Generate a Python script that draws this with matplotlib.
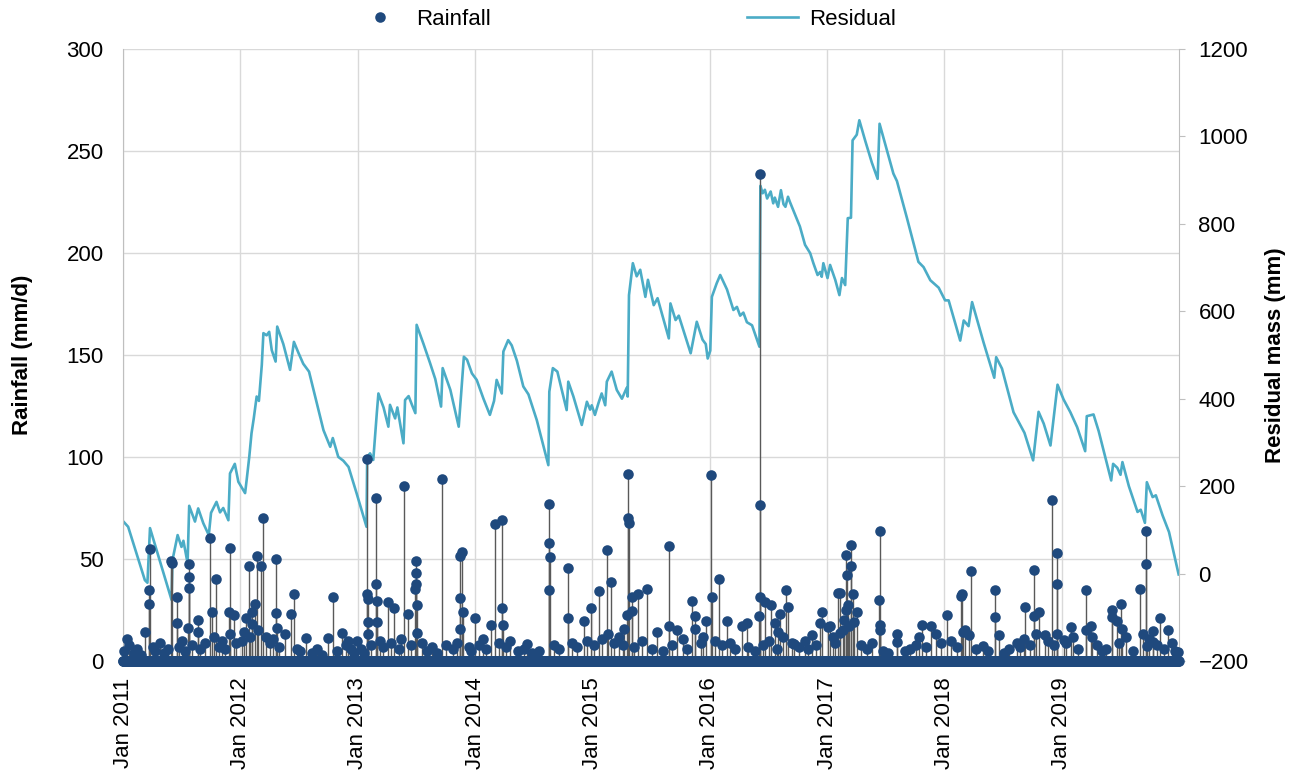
import pandas as pd
import matplotlib.pyplot as plt
from matplotlib.lines import Line2D

plt.rcParams['font.family'] = ['Liberation Sans', 'DejaVu Sans']

# daily rainfall events (all other days are 0 mm)
rain_dates = [
    # 2011
    '2011-01-14', '2011-03-10', '2011-03-23', '2011-03-24', '2011-03-25', '2011-04-04',
    '2011-05-31', '2011-06-03', '2011-06-17', '2011-06-18', '2011-07-23', '2011-07-24',
    '2011-07-25', '2011-07-26', '2011-08-22', '2011-08-23', '2011-09-29', '2011-10-06',
    '2011-10-18', '2011-11-27', '2011-11-29', '2011-12-12',
    '2011-01-05', '2011-01-20', '2011-02-03', '2011-02-14', '2011-02-26', '2011-04-12',
    '2011-04-25', '2011-05-08', '2011-05-20', '2011-06-25', '2011-07-05', '2011-07-14',
    '2011-08-05', '2011-08-30', '2011-09-12', '2011-10-10', '2011-10-26', '2011-11-05',
    '2011-11-15', '2011-12-01', '2011-12-20',
    # 2012
    '2012-01-19', '2012-01-28', '2012-02-05', '2012-02-15', '2012-02-21', '2012-03-04',
    '2012-03-13', '2012-04-21', '2012-04-22', '2012-04-23', '2012-06-08', '2012-06-15',
    '2012-07-25', '2012-09-30', '2012-10-16', '2012-11-13', '2012-12-02', '2012-12-30',
    '2012-01-05', '2012-01-12', '2012-02-01', '2012-02-08', '2012-02-26', '2012-03-20',
    '2012-04-02', '2012-04-12', '2012-05-02', '2012-05-20', '2012-06-25', '2012-07-05',
    '2012-08-10', '2012-08-28', '2012-09-10', '2012-10-28', '2012-11-25', '2012-12-12',
    '2012-12-20',
    # 2013
    '2013-01-30', '2013-01-31', '2013-02-01', '2013-02-02', '2013-02-03', '2013-02-26',
    '2013-02-27', '2013-03-01', '2013-03-02', '2013-04-06', '2013-04-24', '2013-05-26',
    '2013-06-05', '2013-06-29', '2013-06-30', '2013-07-01', '2013-07-02', '2013-07-03',
    '2013-07-04', '2013-09-19', '2013-11-14', '2013-11-15', '2013-11-16', '2013-11-22',
    '2013-11-24', '2013-12-31',
    '2013-01-10', '2013-01-20', '2013-02-12', '2013-03-12', '2013-03-20', '2013-04-15',
    '2013-05-10', '2013-05-16', '2013-06-14', '2013-07-20', '2013-08-05', '2013-08-20',
    '2013-09-05', '2013-10-02', '2013-10-25', '2013-11-05', '2013-12-12', '2013-12-20',
    # 2014
    '2014-02-19', '2014-03-04', '2014-03-26', '2014-03-27', '2014-03-28', '2014-06-13',
    '2014-08-18', '2014-08-19', '2014-08-20', '2014-08-22', '2014-10-16', '2014-10-17',
    '2014-12-07', '2014-12-28',
    '2014-01-12', '2014-01-25', '2014-02-05', '2014-03-15', '2014-04-08', '2014-04-20',
    '2014-05-15', '2014-06-02', '2014-06-28', '2014-07-20', '2014-09-05', '2014-09-20',
    '2014-10-30', '2014-11-15', '2014-12-15',
    # 2015
    '2015-01-23', '2015-02-15', '2015-02-28', '2015-04-08', '2015-04-20', '2015-04-22',
    '2015-04-23', '2015-04-24', '2015-05-03', '2015-05-04', '2015-05-23', '2015-06-20',
    '2015-07-21', '2015-08-26', '2015-08-27', '2015-09-21', '2015-11-07', '2015-11-16',
    '2015-11-17', '2015-12-22',
    '2015-01-05', '2015-01-30', '2015-02-20', '2015-03-10', '2015-03-25', '2015-04-05',
    '2015-05-12', '2015-06-05', '2015-07-05', '2015-08-10', '2015-09-05', '2015-10-10',
    '2015-10-22', '2015-12-05', '2015-12-12',
    # 2016
    '2016-01-06', '2016-01-07', '2016-01-31', '2016-02-24', '2016-04-10', '2016-04-26',
    '2016-06-04', '2016-06-05', '2016-06-06', '2016-06-07', '2016-06-22', '2016-07-10',
    '2016-07-22', '2016-08-01', '2016-08-07', '2016-08-26', '2016-09-02', '2016-09-21',
    '2016-10-24', '2016-11-14', '2016-12-10', '2016-12-17',
    '2016-01-18', '2016-02-10', '2016-03-05', '2016-03-20', '2016-05-01', '2016-05-20',
    '2016-06-15', '2016-07-03', '2016-07-28', '2016-08-15', '2016-09-12', '2016-10-05',
    '2016-11-01', '2016-11-28',
    # 2017
    '2017-01-05', '2017-01-10', '2017-02-03', '2017-02-10', '2017-02-11', '2017-02-28',
    '2017-03-02', '2017-03-03', '2017-03-06', '2017-03-16', '2017-03-17', '2017-03-21',
    '2017-04-05', '2017-05-20', '2017-06-12', '2017-06-13', '2017-06-14', '2017-06-15',
    '2017-08-06', '2017-08-07', '2017-10-23', '2017-11-20', '2017-12-07',
    '2017-01-18', '2017-01-25', '2017-02-18', '2017-02-22', '2017-03-10', '2017-03-25',
    '2017-04-15', '2017-05-05', '2017-06-25', '2017-07-10', '2017-09-01', '2017-09-15',
    '2017-10-05', '2017-10-15', '2017-11-05', '2017-12-20',
    # 2018
    '2018-01-09', '2018-02-21', '2018-02-24', '2018-03-17', '2018-03-25', '2018-04-30',
    '2018-06-06', '2018-06-07', '2018-06-21', '2018-09-05', '2018-09-10', '2018-10-06',
    '2018-10-08', '2018-10-22', '2018-11-09', '2018-12-02', '2018-12-16', '2018-12-17',
    '2018-12-18',
    '2018-01-20', '2018-02-08', '2018-02-28', '2018-03-05', '2018-04-10', '2018-05-15',
    '2018-07-05', '2018-07-20', '2018-08-15', '2018-08-25', '2018-09-25', '2018-10-14',
    '2018-11-20', '2018-12-08',
    # 2019
    '2019-01-07', '2019-01-30', '2019-03-18', '2019-03-19', '2019-04-03', '2019-04-05',
    '2019-05-05', '2019-06-07', '2019-06-08', '2019-06-21', '2019-07-06', '2019-07-07',
    '2019-09-01', '2019-09-20', '2019-09-21', '2019-09-22', '2019-10-12', '2019-10-13',
    '2019-11-04', '2019-11-28', '2019-12-28',
    '2019-01-15', '2019-02-05', '2019-02-20', '2019-04-20', '2019-05-20', '2019-06-28',
    '2019-07-20', '2019-08-10', '2019-09-10', '2019-10-01', '2019-10-25', '2019-11-15',
    '2019-12-10', '2019-12-20',
]
rain_mm = [
    # 2011
    11, 14, 35, 28, 55, 7,
    49, 48, 18.5, 31.5, 16, 41,
    47.5, 36, 14, 20, 60.5, 24,
    40, 24, 55.5, 22.5,
    5, 8, 4, 6, 3, 5,
    9, 4, 6, 7, 10, 5,
    8, 6, 9, 12, 7, 10,
    6, 13, 9,
    # 2012
    21, 46.5, 24, 28, 51.5, 46.5,
    70, 23.5, 50, 16, 23, 33,
    11.5, 11.5, 31.5, 13.5, 10, 10,
    10, 14, 12, 18, 15, 12,
    9, 11, 7, 13, 6, 5,
    4, 6, 3, 5, 8, 6,
    4,
    # 2013
    33, 99, 30.5, 19, 13, 37.5,
    80, 29.5, 19, 29, 26, 86,
    23, 35.5, 49, 43, 37.5, 27.5,
    13.5, 89, 15.5, 51.5, 31, 53.5,
    24, 21,
    6, 4, 8, 10, 7, 9,
    6, 11, 8, 9, 5, 7,
    4, 8, 6, 9, 7, 5,
    # 2014
    17.5, 67, 69, 26, 17.5, 8.5,
    35, 58, 77, 51, 45.5, 21,
    19.5, 26,
    8, 11, 6, 9, 7, 10,
    5, 6, 4, 5, 8, 6,
    9, 7, 10,
    # 2015
    34.5, 54.5, 38.5, 15.5, 22.5, 70,
    91.5, 67.5, 24.5, 31.5, 33, 35.5,
    14, 56.5, 17, 15, 29.5, 15.5,
    22, 19.5,
    8, 11, 13, 9, 12, 8,
    7, 10, 6, 5, 8, 11,
    6, 9, 12,
    # 2016
    91, 31.5, 40, 19.5, 17, 18.5,
    22, 76.5, 238.5, 31.5, 29, 27.5,
    18.5, 14, 23, 35, 26.5, 8.5,
    10, 12.5, 18.5, 24,
    10, 8, 9, 6, 7, 5,
    8, 10, 6, 12, 9, 7,
    6, 8,
    # 2017
    16.5, 17, 33.5, 13.5, 33.5, 52,
    25, 42, 27.5, 46.5, 57, 33,
    24, 9, 30, 63.5, 17.5, 15,
    13, 9.5, 17.5, 17, 13,
    12, 9, 15, 20, 17, 19,
    8, 6, 5, 4, 5, 6,
    8, 12, 7, 9,
    # 2018
    22.5, 32, 33, 12.5, 44, 7.5,
    35, 21.5, 12.5, 11, 26.5, 22,
    44.5, 24, 12.5, 79, 13, 53,
    37.5,
    10, 7, 14, 15, 6, 5,
    4, 6, 9, 7, 8, 13,
    10, 8,
    # 2019
    10.5, 16.5, 35, 15, 17, 12,
    5, 25, 21.5, 19.5, 28, 15.5,
    35.5, 63.5, 47.5, 7.5, 14.5, 9.5,
    21, 15, 4.5,
    9, 12, 6, 8, 6, 9,
    12, 5, 13, 11, 8, 6,
    9, 5,
]

# residual mass curve, turning points
resid_dates = [
    '2011-01-01', '2011-01-17', '2011-03-10', '2011-03-18', '2011-03-26', '2011-06-01',
    '2011-06-04', '2011-06-20', '2011-07-02', '2011-07-08', '2011-07-21', '2011-07-26',
    '2011-08-13', '2011-08-23', '2011-09-08', '2011-09-25', '2011-10-02', '2011-10-19',
    '2011-10-30', '2011-11-09', '2011-11-25', '2011-11-30', '2011-12-15', '2011-12-26',
    '2012-01-16', '2012-01-21', '2012-01-29', '2012-02-05', '2012-02-12', '2012-02-21',
    '2012-02-28', '2012-03-08', '2012-03-13', '2012-03-23', '2012-03-31', '2012-04-08',
    '2012-04-20', '2012-04-25', '2012-05-14', '2012-06-04', '2012-06-16', '2012-06-30',
    '2012-07-15', '2012-08-02', '2012-08-26', '2012-09-16', '2012-10-07', '2012-10-15',
    '2012-11-01', '2012-11-17', '2012-12-03', '2012-12-28',
    '2013-01-28', '2013-01-30', '2013-02-08', '2013-02-18', '2013-03-01', '2013-03-06',
    '2013-03-22', '2013-04-06', '2013-04-11', '2013-04-27', '2013-05-04', '2013-05-23',
    '2013-05-28', '2013-06-08', '2013-06-19', '2013-06-29', '2013-07-03', '2013-07-24',
    '2013-08-14', '2013-08-30', '2013-09-17', '2013-09-22', '2013-10-16', '2013-11-11',
    '2013-11-27', '2013-12-07', '2013-12-22',
    '2014-01-06', '2014-01-27', '2014-02-16', '2014-03-01', '2014-03-09', '2014-03-25',
    '2014-03-30', '2014-04-14', '2014-04-25', '2014-05-11', '2014-05-31', '2014-06-16',
    '2014-07-12', '2014-08-17', '2014-08-20', '2014-08-31', '2014-09-14', '2014-09-28',
    '2014-10-13', '2014-10-18', '2014-11-03', '2014-11-29', '2014-12-15', '2014-12-25',
    '2014-12-30',
    '2015-01-09', '2015-01-20', '2015-01-30', '2015-02-10', '2015-02-15', '2015-03-02',
    '2015-03-18', '2015-04-03', '2015-04-18', '2015-04-21', '2015-04-25', '2015-05-07',
    '2015-05-19', '2015-05-30', '2015-06-15', '2015-06-23', '2015-07-11', '2015-07-23',
    '2015-08-27', '2015-09-01', '2015-09-17', '2015-09-27', '2015-11-03', '2015-11-22',
    '2015-12-10', '2015-12-20', '2015-12-26',
    '2016-01-03', '2016-01-08', '2016-01-23', '2016-02-03', '2016-02-24', '2016-03-15',
    '2016-03-26', '2016-04-05', '2016-04-15', '2016-04-26', '2016-05-12', '2016-06-04',
    '2016-06-07', '2016-06-14', '2016-06-21', '2016-06-28', '2016-07-09', '2016-07-17',
    '2016-07-22', '2016-08-01', '2016-08-10', '2016-08-18', '2016-08-24', '2016-09-01',
    '2016-09-07', '2016-09-17', '2016-10-08', '2016-10-24', '2016-11-09', '2016-11-19',
    '2016-12-02', '2016-12-10', '2016-12-15', '2016-12-20',
    '2017-01-02', '2017-01-10', '2017-01-26', '2017-02-08', '2017-02-16', '2017-02-26',
    '2017-03-06', '2017-03-16', '2017-03-21', '2017-04-03', '2017-04-11', '2017-04-29',
    '2017-05-20', '2017-06-07', '2017-06-13', '2017-07-26', '2017-08-06', '2017-09-06',
    '2017-10-12', '2017-10-28', '2017-11-18', '2017-12-14',
    '2018-01-03', '2018-01-14', '2018-02-19', '2018-03-02', '2018-03-17', '2018-03-28',
    '2018-05-03', '2018-06-05', '2018-06-11', '2018-06-29', '2018-08-04', '2018-09-07',
    '2018-10-04', '2018-10-21', '2018-11-06', '2018-11-27', '2018-12-19',
    '2019-01-07', '2019-01-28', '2019-02-18', '2019-03-15', '2019-03-20', '2019-04-10',
    '2019-04-26', '2019-06-04', '2019-06-10', '2019-06-23', '2019-07-03', '2019-07-09',
    '2019-07-29', '2019-08-25', '2019-09-04', '2019-09-17', '2019-09-23', '2019-10-11',
    '2019-10-21', '2019-11-11', '2019-12-01', '2019-12-31',
]
resid_mm = [
    120, 107, -15, -21, 104, -60,
    31, 88, 61, 75, 24, 155,
    119, 149, 115, 88, 139, 164,
    140, 150, 122, 229, 251, 210,
    184, 215, 267, 321, 355, 405,
    395, 477, 550, 545, 553, 511,
    485, 565, 525, 466, 530, 505,
    480, 462, 390, 328, 290, 310,
    267, 258, 244, 184,
    107, 267, 275, 260, 367, 412,
    380, 336, 386, 355, 380, 298,
    397, 406, 385, 367, 569, 526,
    481, 445, 382, 470, 420, 336,
    496, 489, 458,
    443, 400, 363, 395, 443, 412,
    508, 534, 522, 487, 428, 410,
    351, 248, 416, 470, 462, 420,
    374, 439, 405, 340, 393, 375,
    385,
    363, 390, 412, 385, 439, 462,
    420, 400, 425, 405, 637, 710,
    680, 695, 633, 672, 614, 630,
    538, 618, 580, 590, 504, 576,
    535, 525, 492,
    510, 633, 664, 683, 650, 603,
    610, 590, 597, 575, 568, 519,
    887, 870, 878, 858, 874, 847,
    860, 839, 877, 845, 839, 862,
    850, 832, 794, 752, 733, 710,
    683, 690, 679, 710,
    676, 706, 672, 637, 676, 660,
    813, 814, 991, 1004, 1037, 991,
    940, 903, 1029, 915, 898, 814,
    713, 701, 671, 654,
    625, 625, 533, 579, 566, 621,
    528, 448, 495, 469, 369, 322,
    259, 370, 343, 293, 432,
    398, 369, 335, 280, 360, 364,
    326, 213, 251, 242, 226, 255,
    200, 141, 146, 116, 209, 175,
    179, 133, 95, -2,
]

years = list(range(2011, 2020))
year_labels = [f'Jan {y}' for y in years]

days = pd.date_range('2011-01-01', '2019-12-31', freq='D')
rain = pd.Series(0.0, index=days)
for d, v in zip(pd.to_datetime(rain_dates), rain_mm):
    rain[d] = v
resid = pd.Series(resid_mm, index=pd.to_datetime(resid_dates))

blue = '#1f497d'
aqua = '#4bacc6'
grid_c = '#d9d9d9'

fig = plt.figure(figsize=(12.99, 7.73), dpi=100)
ax = fig.add_axes([0.0947, 0.1449, 0.8129, 0.7917])
ax2 = ax.twinx()
# rainfall on top of the residual line
ax.set_zorder(ax2.get_zorder() + 1)
ax.patch.set_visible(False)

ax.set_xlim(pd.Timestamp('2011-01-01'), pd.Timestamp('2020-01-01'))
ax.set_ylim(0, 300)
ax2.set_ylim(-200, 1200)
ax.set_yticks(range(0, 301, 50))
ax2.set_yticks(range(-200, 1201, 200))

# grid lives in the lower axes so the line sits over it
ax2.hlines(ax.get_yticks(), 0, 1, transform=ax.get_yaxis_transform(),
           color=grid_c, lw=1.0, zorder=0)
ax2.vlines([pd.Timestamp(f'{y}-01-01') for y in years], 0, 1,
           transform=ax.get_xaxis_transform(), color=grid_c, lw=1.0, zorder=0)

ax2.plot(resid.index, resid.values, color=aqua, lw=1.9, zorder=2)

ax.vlines(rain.index, 0, rain.values, color='#595959', lw=1.0, zorder=2)
ax.plot(rain.index, rain.values, 'o', color=blue, ms=7.6, mec='none',
        clip_on=False, zorder=3)

ax.set_xticks([pd.Timestamp(f'{y}-01-01') for y in years])
ax.set_xticklabels(year_labels, rotation=90, fontsize=16)
ax.tick_params(axis='x', length=0, pad=12)
ax.tick_params(axis='y', length=0, pad=14, labelsize=16)
ax2.tick_params(axis='y', length=4, color='#bfbfbf', pad=10, labelsize=16)

for s in ['top', 'right']:
    ax.spines[s].set_visible(False)
ax.spines['left'].set_color('#bfbfbf')
ax.spines['bottom'].set_color('#bfbfbf')
for s in ['top', 'left', 'bottom']:
    ax2.spines[s].set_visible(False)
ax2.spines['right'].set_color('#bfbfbf')

ax.set_ylabel('Rainfall (mm/d)', fontsize=16, fontweight='bold', labelpad=24)
ax2.set_ylabel('Residual mass (mm)', fontsize=16, fontweight='bold', labelpad=12)

handles = [Line2D([], [], marker='o', ls='none', color=blue, ms=7.6, mec='none'),
           Line2D([], [], color=aqua, lw=1.9)]
fig.legend(handles, ['Rainfall', 'Residual'], loc='center', bbox_to_anchor=(0.481, 0.975),
           ncol=2, frameon=False, fontsize=16, columnspacing=11.5,
           handlelength=2.3, handletextpad=0.5)

fig.savefig('out.png', dpi=100)
